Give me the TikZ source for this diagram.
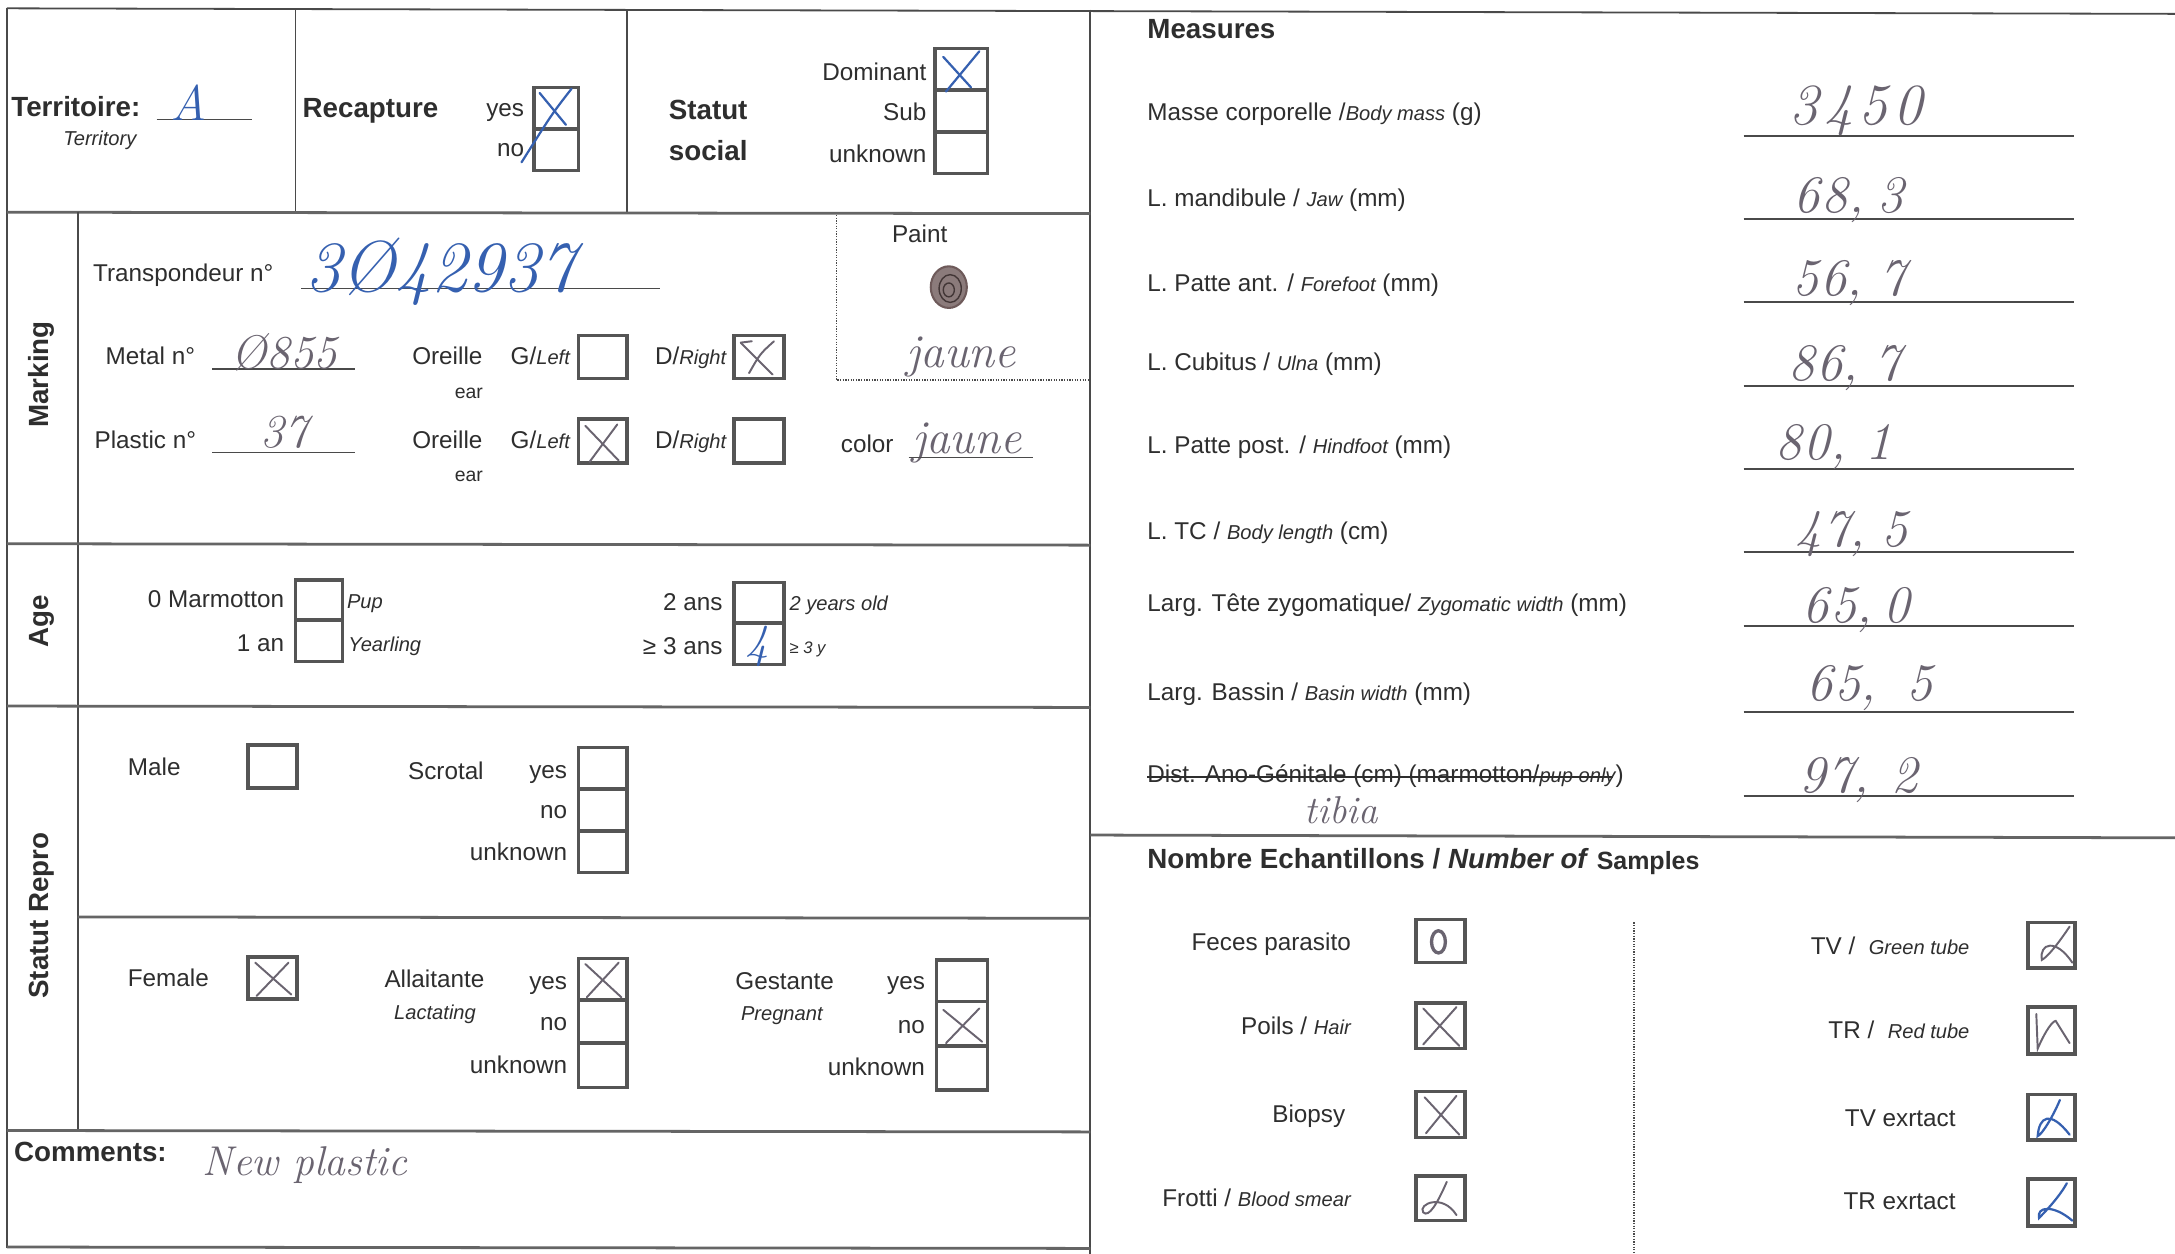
\documentclass[tikz,border=0pt]{standalone}
\usepackage{fontspec}
\setsansfont{Liberation Sans}
\renewcommand{\familydefault}{\sfdefault}
\usetikzlibrary{calc}
\definecolor{ink}{HTML}{2E2E2E}
\definecolor{frm}{HTML}{4A4A4A}
\definecolor{boxc}{HTML}{555555}
\definecolor{blueink}{HTML}{3560B0}
\definecolor{grayink}{HTML}{6A6470}
\definecolor{brownink}{HTML}{6E5A5A}
\newcommand\smit[1]{{\fontsize{14.5}{16}\selectfont\itshape #1}}
\tikzset{
  lbl/.style={font=\fontsize{17.5}{20}\selectfont, inner sep=0pt, text=ink},
  smlbl/.style={font=\fontsize{14.5}{16}\selectfont\itshape, inner sep=0pt, text=ink},
  earlbl/.style={font=\fontsize{14}{16}\selectfont, inner sep=0pt, text=ink},
  hdr/.style={font=\fontsize{20}{24}\selectfont\bfseries, inner sep=0pt, text=ink},
  handb/.style={font=\rmfamily\itshape\fontsize{40}{40}\selectfont, inner sep=0pt, text=blueink},
  handg/.style={font=\rmfamily\itshape\fontsize{34}{34}\selectfont, inner sep=0pt, text=grayink},
  frameln/.style={draw=frm, line width=1.3pt},
  secln/.style={draw=frm!85, line width=2pt},
  dotln/.style={draw=frm, line width=0.9pt, densely dotted},
  cbox/.style={draw=boxc, line width=2.6pt},
  markb/.style={draw=blueink, line width=1.6pt, line cap=round},
  markg/.style={draw=grayink, line width=1.4pt, line cap=round},
}
\newcommand\cb[4]{\draw[cbox] (#1,#2) rectangle (#3,#4);}
\begin{document}
\begin{tikzpicture}[x=1pt,y=-1pt]
\useasboundingbox (0,0) rectangle (1568,904);
\fill[white] (0,0) rectangle (1568,904);

% ---------- frame of left part ----------
\draw[frameln] (5,6) -- (1568,10);
\draw[frameln] (5,6) -- (5,900);
\draw[frameln] (786,7) -- (786,904);
\draw[frameln] (213,6) -- (213,153);
\draw[frameln] (452,7) -- (452,153);
\draw[secln] (5,153) -- (786,154);
\draw[frameln] (56,153) -- (56,815);
\draw[secln] (5,392) -- (786,393);
\draw[secln] (5,509) -- (786,510);
\draw[secln] (56,661) -- (786,662);
\draw[secln] (5,815) -- (786,816);
\draw[secln] (5,899) -- (786,900);

% ---------- header row ----------
\node[hdr, anchor=base west] (terr) at (8,84) {Territoire:};
\node[smlbl, anchor=base] (terren) at (72,105) {Territory};
\draw[frameln, line width=1pt] (113,86) -- (182,86);
\node[handb, font=\rmfamily\itshape\fontsize{36}{36}\selectfont] (terrval) at (136,74) {A};

\node[hdr, anchor=base west] (recap) at (218,85) {Recapture};
\node[lbl, anchor=base east] (recyes) at (378,84) {yes};
\node[lbl, anchor=base east] (recno) at (378,113) {no};
\cb{385}{63}{417}{93}
\cb{385}{93}{417}{123}
\draw[markb] (389,67) -- (408,90);
\draw[markb] (412,64) .. controls (398,82) .. (376,117);

\node[hdr, anchor=base west] (statut) at (482,86) {Statut};
\node[hdr, anchor=base west] (social) at (482,116) {social};
\node[lbl, anchor=base east] (dom) at (668,58) {Dominant};
\node[lbl, anchor=base east] (sub) at (668,87) {Sub};
\node[lbl, anchor=base east] (unk1) at (668,117) {unknown};
\cb{674}{35}{712}{65}
\cb{674}{65}{712}{95}
\cb{674}{95}{712}{125}
\draw[markb] (680,41) -- (700,63);
\draw[markb] (706,37) -- (682,66);

% ---------- Marking ----------
\node[hdr, rotate=90] (marking) at (30,270) {Marking};
\node[lbl, anchor=base west] (transp) at (67,203) {Transpondeur n°};
\draw[frameln, line width=1pt] (217,208) -- (476,208);
\node[handb, font=\rmfamily\itshape\fontsize{52}{52}\selectfont, anchor=west] (transpval) at (220,196) {3Ø42937};

\draw[dotln] (603,155) -- (603,274) -- (786,274);
\node[lbl, anchor=base] (paint) at (663,175) {Paint};
\fill[brownink!80] (684,207) ellipse [x radius=13, y radius=15];
\draw[brownink, line width=1.5pt] (684,207) ellipse [x radius=13, y radius=15];
\draw[brownink!60!black, line width=1pt] (685,208) ellipse [x radius=8, y radius=10];
\draw[brownink!60!black, line width=1pt] (684,209) ellipse [x radius=4, y radius=5];
\node[handg] (paintval) at (693,257) {jaune};

\node[lbl, anchor=base west] (metal) at (76,263) {Metal n°};
\draw[frameln, line width=1pt] (153,266) -- (256,266);
\node[handg] (metalval) at (205,254) {Ø855};
\node[lbl, anchor=base west] (or1) at (297,263) {Oreille};
\node[earlbl, anchor=base] (ear1) at (338,287) {ear};
\node[lbl, anchor=base west] (gl1) at (368,263) {G/\smit{Left}};
\cb{417}{242}{452}{273}
\node[lbl, anchor=base west] (dr1) at (472,263) {D/\smit{Right}};
\cb{529}{242}{565}{273}
\draw[markg] (534,247) -- (557,270);
\draw[markg] (558,246) .. controls (548,255) .. (540,269);
\draw[markg] (534,247) -- (542,246);

\node[lbl, anchor=base west] (plastic) at (68,323) {Plastic n°};
\draw[frameln, line width=1pt] (153,326) -- (256,326);
\node[handg] (plasticval) at (205,312) {37};
\node[lbl, anchor=base west] (or2) at (297,323) {Oreille};
\node[earlbl, anchor=base] (ear2) at (338,347) {ear};
\node[lbl, anchor=base west] (gl2) at (368,323) {G/\smit{Left}};
\cb{417}{302}{452}{334}
\draw[markg] (422,307) -- (446,332);
\draw[markg] (445,306) -- (425,333);
\node[lbl, anchor=base west] (dr2) at (472,323) {D/\smit{Right}};
\cb{529}{302}{565}{334}
\node[lbl, anchor=base west] (color) at (606,326) {color};
\node[handg] (colorval) at (697,319) {jaune};
\draw[frameln, line width=1pt] (655,330) -- (745,330);

% ---------- Age ----------
\node[hdr, rotate=90] (age) at (30,448) {Age};
\node[lbl, anchor=base east] (pup) at (205,438) {0 Marmotton};
\node[lbl, anchor=base east] (yearl) at (205,470) {1 an};
\cb{213}{418}{247}{447}
\cb{213}{447}{247}{477}
\node[smlbl, anchor=base west] (pupen) at (250,439) {Pup};
\node[smlbl, anchor=base west] (yearlen) at (251,470) {Yearling};
\node[lbl, anchor=base east] (twoy) at (521,440) {2 ans};
\node[lbl, anchor=base east] (threey) at (521,472) {≥ 3 ans};
\cb{529}{420}{565}{449}
\cb{529}{449}{565}{479}
\node[smlbl, anchor=base west] (twoyen) at (569,440) {2 years old};
\node[smlbl, font=\fontsize{12}{14}\selectfont\itshape, anchor=base west] (threeyen) at (569,471) {≥ 3 y};
\node[handb, font=\rmfamily\itshape\fontsize{34}{34}\selectfont] (ageval) at (546,466) {4};

% ---------- Statut Repro ----------
\node[hdr, rotate=90] (repro) at (30,660) {Statut Repro};
\node[lbl, anchor=base west] (male) at (92,559) {Male};
\cb{179}{537}{214}{568}
\node[lbl, anchor=base west] (scrotal) at (294,562) {Scrotal};
\node[lbl, anchor=base east] (scyes) at (409,561) {yes};
\node[lbl, anchor=base east] (scno) at (409,590) {no};
\node[lbl, anchor=base east] (scunk) at (409,620) {unknown};
\cb{417}{539}{452}{569}
\cb{417}{569}{452}{599}
\cb{417}{599}{452}{629}

\node[lbl, anchor=base west] (female) at (92,711) {Female};
\cb{179}{690}{214}{720}
\draw[markg] (184,694) -- (210,717);
\draw[markg] (208,694) -- (185,718);
\node[lbl, anchor=base west] (allait) at (277,712) {Allaitante};
\node[smlbl, anchor=base west] (lact) at (284,735) {Lactating};
\node[lbl, anchor=base east] (alyes) at (409,713) {yes};
\node[lbl, anchor=base east] (alno) at (409,743) {no};
\node[lbl, anchor=base east] (alunk) at (409,774) {unknown};
\cb{417}{691}{452}{721}
\cb{417}{721}{452}{752}
\cb{417}{752}{452}{784}
\draw[markg] (422,695) -- (448,719);
\draw[markg] (446,694) -- (423,719);
\node[lbl, anchor=base west] (gest) at (530,713) {Gestante};
\node[smlbl, anchor=base west] (preg) at (534,736) {Pregnant};
\node[lbl, anchor=base east] (geyes) at (667,713) {yes};
\node[lbl, anchor=base east] (geno) at (667,745) {no};
\node[lbl, anchor=base east] (geunk) at (667,775) {unknown};
\cb{675}{692}{712}{722}
\cb{675}{722}{712}{754}
\cb{675}{754}{712}{786}
\draw[markg] (680,728) -- (708,751);
\draw[markg] (706,727) -- (682,752);

% ---------- Comments ----------
\node[hdr, anchor=base west] (comm) at (10,837) {Comments:};
\node[handg, font=\rmfamily\itshape\fontsize{30}{30}\selectfont, anchor=west] (commval) at (146,840) {New plastic};

% ---------- Measures ----------
\node[hdr, anchor=base west] (meas) at (827,28) {Measures};
\node[lbl, anchor=base west] (m1) at (827,87) {Masse corporelle /\smit{Body mass} (g)};
\node[lbl, anchor=base west] (m2) at (827,149) {L. mandibule / \smit{Jaw} (mm)};
\node[lbl, anchor=base west] (m3) at (827,210) {L. Patte ant. / \smit{Forefoot} (mm)};
\node[lbl, anchor=base west] (m4) at (827,267) {L. Cubitus / \smit{Ulna} (mm)};
\node[lbl, anchor=base west] (m5) at (827,327) {L. Patte post. / \smit{Hindfoot} (mm)};
\node[lbl, anchor=base west] (m6) at (827,389) {L. TC / \smit{Body length} (cm)};
\node[lbl, anchor=base west] (m7) at (827,441) {Larg. Tête zygomatique/ \smit{Zygomatic width} (mm)};
\node[lbl, anchor=base west] (m8) at (827,505) {Larg. Bassin / \smit{Basin width} (mm)};
\node[lbl, anchor=base west] (m9) at (827,564) {Dist. Ano-Génitale (cm) (marmotton/\smit{pup only})};
\draw[draw=ink, line width=1.2pt] ($(m9.west)+(0,1)$) -- ($(m9.east)+(-8,1)$);
\node[handg, font=\rmfamily\itshape\fontsize{28}{28}\selectfont] (tibia) at (967,584) {tibia};

\foreach \yy in {98,158,218,278,338,398,451,513,574}
  \draw[frameln, line width=1.4pt] (1257,\yy) -- (1495,\yy);
\node[handg, font=\rmfamily\itshape\fontsize{42}{42}\selectfont] (v1) at (1338,80) {3\kern4pt4\kern4pt5\kern4pt0};
\node[handg, font=\rmfamily\itshape\fontsize{38}{38}\selectfont] (v2) at (1333,144) {6\kern1pt8,\kern10pt3};
\node[handg, font=\rmfamily\itshape\fontsize{38}{38}\selectfont] (v3) at (1333,204) {5\kern1pt6,\kern12pt7};
\node[handg, font=\rmfamily\itshape\fontsize{38}{38}\selectfont] (v4) at (1330,265) {8\kern1pt6,\kern12pt7};
\node[handg, font=\rmfamily\itshape\fontsize{38}{38}\selectfont] (v5) at (1322,322) {8\kern1pt0,\kern14pt1};
\node[handg, font=\rmfamily\itshape\fontsize{38}{38}\selectfont] (v6) at (1335,385) {4\kern1pt7,\kern12pt5};
\node[handg, font=\rmfamily\itshape\fontsize{38}{38}\selectfont] (v7) at (1338,440) {6\kern1pt5,\kern8pt0};
\node[handg, font=\rmfamily\itshape\fontsize{38}{38}\selectfont] (v8) at (1348,496) {6\kern1pt5,\kern22pt5};
\node[handg, font=\rmfamily\itshape\fontsize{38}{38}\selectfont] (v9) at (1340,562) {9\kern1pt7,\kern16pt2};

% ---------- Samples ----------
\draw[secln] (786,602) -- (1568,604);
\node[hdr, anchor=base west] (samp) at (827,626) {Nombre Echantillons / \textit{Number of} {\fontsize{18}{20}\selectfont\raisebox{-1pt}{Samples}}};
\draw[dotln] (1178,665) -- (1178,904);

\node[lbl, anchor=base east] (s1) at (974,685) {Feces parasito};
\node[lbl, anchor=base east] (s2) at (974,746) {Poils / \smit{Hair}};
\node[lbl, anchor=base east] (s3) at (970,809) {Biopsy};
\node[lbl, anchor=base east] (s4) at (974,870) {Frotti / \smit{Blood smear}};
\cb{1021}{663}{1056}{694}
\cb{1021}{723}{1056}{756}
\cb{1021}{787}{1056}{820}
\cb{1021}{848}{1056}{880}
\draw[grayink, line width=2.4pt] (1037,679) ellipse [x radius=5, y radius=8];
\draw[markg] (1026,727) -- (1052,754);
\draw[markg] (1050,726) -- (1026,753);
\draw[markg] (1027,791) -- (1052,818);
\draw[markg] (1050,790) -- (1028,817);
\draw[markg] (1043,852) .. controls (1036,868) and (1030,878) .. (1026,874) .. controls (1022,868) and (1040,860) .. (1050,876);

\node[lbl, anchor=base east] (t1) at (1420,688) {TV / \ \smit{Green tube}};
\node[lbl, anchor=base east] (t2) at (1420,749) {TR / \ \smit{Red tube}};
\node[lbl, anchor=base east] (t3) at (1410,812) {TV exrtact};
\node[lbl, anchor=base east] (t4) at (1410,872) {TR exrtact};
\cb{1462}{665}{1496}{698}
\cb{1462}{726}{1496}{760}
\cb{1462}{789}{1496}{822}
\cb{1462}{850}{1496}{884}
\draw[markg] (1492,668) .. controls (1484,680) and (1476,690) .. (1472,692) .. controls (1470,680) and (1482,676) .. (1494,694);
\draw[markg] (1468,731) -- (1469,756) .. controls (1475,742) and (1480,736) .. (1482,736) -- (1492,752);
\draw[markb] (1485,793) .. controls (1480,805) and (1472,818) .. (1469,819) .. controls (1470,805) and (1478,800) .. (1492,818);
\draw[markb] (1490,853) .. controls (1484,864) and (1472,876) .. (1470,878) .. controls (1468,870) and (1480,868) .. (1494,880);
\end{tikzpicture}
\end{document}
